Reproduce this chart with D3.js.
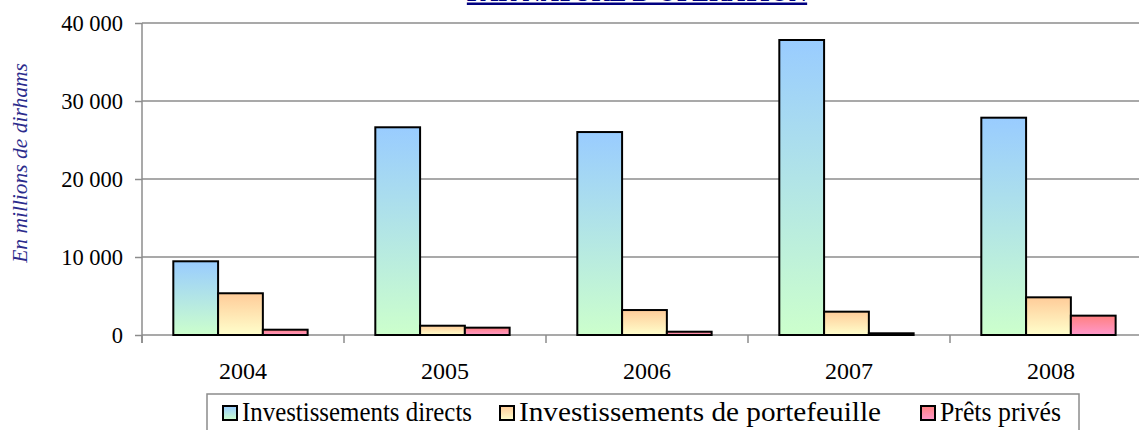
<!DOCTYPE html>
<html>
<head>
<meta charset="utf-8">
<script src="https://cdn.jsdelivr.net/npm/d3@7"></script>
<style>
	body { margin: 0; background: #fff; }
	svg { display: block; font-family: "Liberation Serif", "Times New Roman", serif; }
</style>
</head>
<body>
<svg width="1139" height="430"></svg>
<script>
// chart data
var years = ['2004', '2005', '2006', '2007', '2008'];
var series_names = ['Investissements directs', 'Investissements de portefeuille', 'Prêts privés'];
var directs = [9450, 26630, 26020, 37820, 27860];
var portefeuille = [5350, 1190, 3200, 2990, 4830];
var prets = [680, 940, 420, 220, 2480];
var y_ticks = [0, 10000, 20000, 30000, 40000];

// gradient colours per series (top -> bottom)
var grads = [
	['#99CCFF', '#CCFFCC'],
	['#FFCC99', '#FFFFCC'],
	['#FF8080', '#FF99CC']
];

var values = [directs, portefeuille, prets];

var svg = d3.select('svg');
var margins = {top: 23, left: 142, bottom: 95};
var height = +svg.attr('height') - margins.top - margins.bottom;
var band = 202;
var width = band * years.length;

var defs = svg.append('defs');
grads.forEach(function(c, i){
	var lg = defs.append('linearGradient')
		.attr('id', 'grad' + i)
		.attr('x1', 0).attr('y1', 0).attr('x2', 0).attr('y2', 1);
	lg.append('stop').attr('offset', '0%').attr('stop-color', c[0]);
	lg.append('stop').attr('offset', '100%').attr('stop-color', c[1]);
});

// title, mostly cut off at the top of the picture
svg.append('text')
	.attr('x', 637)
	.attr('y', 0.5)
	.attr('text-anchor', 'middle')
	.attr('font-size', 25)
	.attr('font-weight', 'bold')
	.attr('fill', '#000080')
	.style('text-decoration', 'underline')
	.text("PAR NATURE D'OPERATION");

var g = svg.append('g')
	.attr('transform', 'translate(' + margins.left + ',' + margins.top + ')');

var x0 = d3.scaleBand().domain(years).range([0, width]);
var x1 = d3.scaleBand().domain(d3.range(3))
	.range([x0.bandwidth() * 0.155, x0.bandwidth() * 0.82]);
var y = d3.scaleLinear().domain([0, 40000]).range([height, 0]);

var fmt = function(d){ return d3.format(',')(d).replace(/,/g, ' '); };

// Y axis with gridlines
function customYAxis(g){
	var yaxis = d3.axisLeft(y)
		.tickValues(y_ticks)
		.tickFormat(fmt)
		.tickSizeOuter(0)
		.tickSizeInner(7)
		.tickPadding(12);
	g.call(yaxis);
	g.select('path').remove();
	g.selectAll('.tick line').attr('stroke', '#8C8C8C').attr('stroke-width', 1.5);
	g.selectAll('.tick text')
		.attr('font-size', 22.5)
		.attr('font-family', '"Liberation Serif", serif')
		.attr('fill', '#000')
		.attr('dy', '0.34em');
}

g.append('g')
	.selectAll('line')
	.data(y_ticks)
	.enter().append('line')
		.attr('x1', 0)
		.attr('x2', width)
		.attr('y1', function(d){ return y(d); })
		.attr('y2', function(d){ return y(d); })
		.attr('stroke', '#8C8C8C')
		.attr('stroke-width', 1.5);

g.append('g').call(customYAxis);

// Y axis line
g.append('line')
	.attr('x1', 0).attr('x2', 0)
	.attr('y1', 0).attr('y2', height + 8)
	.attr('stroke', '#8C8C8C')
	.attr('stroke-width', 1.5);

// bars
var week_group = g.append('g')
	.selectAll('g')
	.data(years)
	.enter().append('g')
		.attr('transform', function(d){ return 'translate(' + x0(d) + ',0)'; });

week_group.selectAll('rect')
	.data(function(d, idx){
		return values.map(function(v, s){ return {s: s, v: v[idx]}; });
	})
	.enter().append('rect')
		.attr('x', function(d){ return x1(d.s); })
		.attr('y', function(d){ return y(d.v); })
		.attr('width', x1.bandwidth())
		.attr('height', function(d){ return height - y(d.v); })
		.attr('fill', function(d){ return 'url(#grad' + d.s + ')'; })
		.attr('stroke', '#000')
		.attr('stroke-width', 2);

// X axis: ticks between categories, labels centred
var boundaries = d3.range(years.length + 1).map(function(i){ return i * x0.bandwidth(); });
g.append('g')
	.selectAll('line')
	.data(boundaries)
	.enter().append('line')
		.attr('x1', function(d){ return d; })
		.attr('x2', function(d){ return d; })
		.attr('y1', height)
		.attr('y2', height + 8)
		.attr('stroke', '#8C8C8C')
		.attr('stroke-width', 1.5);

g.append('g')
	.selectAll('text')
	.data(years)
	.enter().append('text')
		.attr('x', function(d){ return x0(d) + x0.bandwidth() / 2; })
		.attr('y', height + 44)
		.attr('text-anchor', 'middle')
		.attr('font-size', 24)
		.text(function(d){ return d; });

// Y axis title
svg.append('text')
	.attr('transform', 'translate(27,' + (margins.top + 140) + ') rotate(-90)')
	.attr('text-anchor', 'middle')
	.attr('font-size', 21.5)
	.attr('font-style', 'italic')
	.attr('fill', '#2B2B8C')
	.text('En millions de dirhams');

// legend
var leg = {x: 207, y: 394, w: 872, h: 50};
var leg_x = [222, 499, 920];
var leg_len = [230, 362, 121];

svg.append('rect')
	.attr('x', leg.x).attr('y', leg.y)
	.attr('width', leg.w).attr('height', leg.h)
	.attr('fill', '#fff')
	.attr('stroke', '#8C8C8C')
	.attr('stroke-width', 1.5);

var items = svg.append('g').selectAll('g')
	.data(series_names)
	.enter().append('g')
		.attr('transform', function(d, i){ return 'translate(' + leg_x[i] + ',0)'; });

items.append('rect')
	.attr('x', 1)
	.attr('width', 14).attr('height', 14)
	.attr('y', 406)
	.attr('fill', function(d, i){ return 'url(#grad' + i + ')'; })
	.attr('stroke', '#000')
	.attr('stroke-width', 2);

items.append('text')
	.attr('x', 20)
	.attr('y', 421)
	.attr('font-size', 27)
	.attr('textLength', function(d, i){ return leg_len[i]; })
	.attr('lengthAdjust', 'spacingAndGlyphs')
	.text(function(d){ return d; });
</script>
</body>
</html>
